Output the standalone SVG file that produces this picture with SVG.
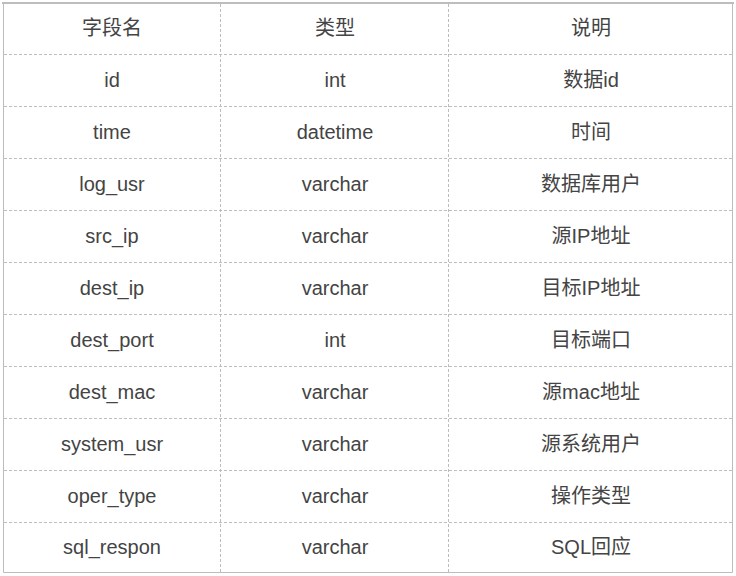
<svg xmlns="http://www.w3.org/2000/svg" width="736" height="576" viewBox="0 0 736 576">
<style>
.b{stroke:#bdbdbd;fill:none}
.d{stroke:#bdbdbd;stroke-width:1;stroke-dasharray:3 2;fill:none}
text{font-family:"Liberation Sans","Noto Sans CJK SC",sans-serif;font-size:20px;fill:#444;text-anchor:middle}
</style>
<rect width="736" height="576" fill="#fff"/>
<g id="grid">
<path class="d" d="M220.5 4V572M448.5 4V572M4 54.5H732M4 106.5H732M4 158.5H732M4 210.5H732M4 262.5H732M4 314.5H732M4 366.5H732M4 418.5H732M4 470.5H732M4 522.5H732"/>
<path class="b" stroke-width="2" d="M2 3H734"/>
<path class="b" stroke-width="1" d="M3.5 3V572.5H732.5V3"/>
</g>
<g id="text">
<text x="112" y="35">字段名</text><text x="335" y="35">类型</text><text x="591" y="35">说明</text>
<text x="112" y="87">id</text><text x="335" y="87">int</text><text x="591" y="87">数据id</text>
<text x="112" y="139">time</text><text x="335" y="139">datetime</text><text x="591" y="139">时间</text>
<text x="112" y="191">log_usr</text><text x="335" y="191">varchar</text><text x="591" y="191">数据库用户</text>
<text x="112" y="243">src_ip</text><text x="335" y="243">varchar</text><text x="591" y="243">源IP地址</text>
<text x="112" y="295">dest_ip</text><text x="335" y="295">varchar</text><text x="591" y="295">目标IP地址</text>
<text x="112" y="347">dest_port</text><text x="335" y="347">int</text><text x="591" y="347">目标端口</text>
<text x="112" y="399">dest_mac</text><text x="335" y="399">varchar</text><text x="591" y="399">源mac地址</text>
<text x="112" y="451">system_usr</text><text x="335" y="451">varchar</text><text x="591" y="451">源系统用户</text>
<text x="112" y="503">oper_type</text><text x="335" y="503">varchar</text><text x="591" y="503">操作类型</text>
<text x="112" y="554">sql_respon</text><text x="335" y="554">varchar</text><text x="591" y="554">SQL回应</text>
</g>
</svg>
